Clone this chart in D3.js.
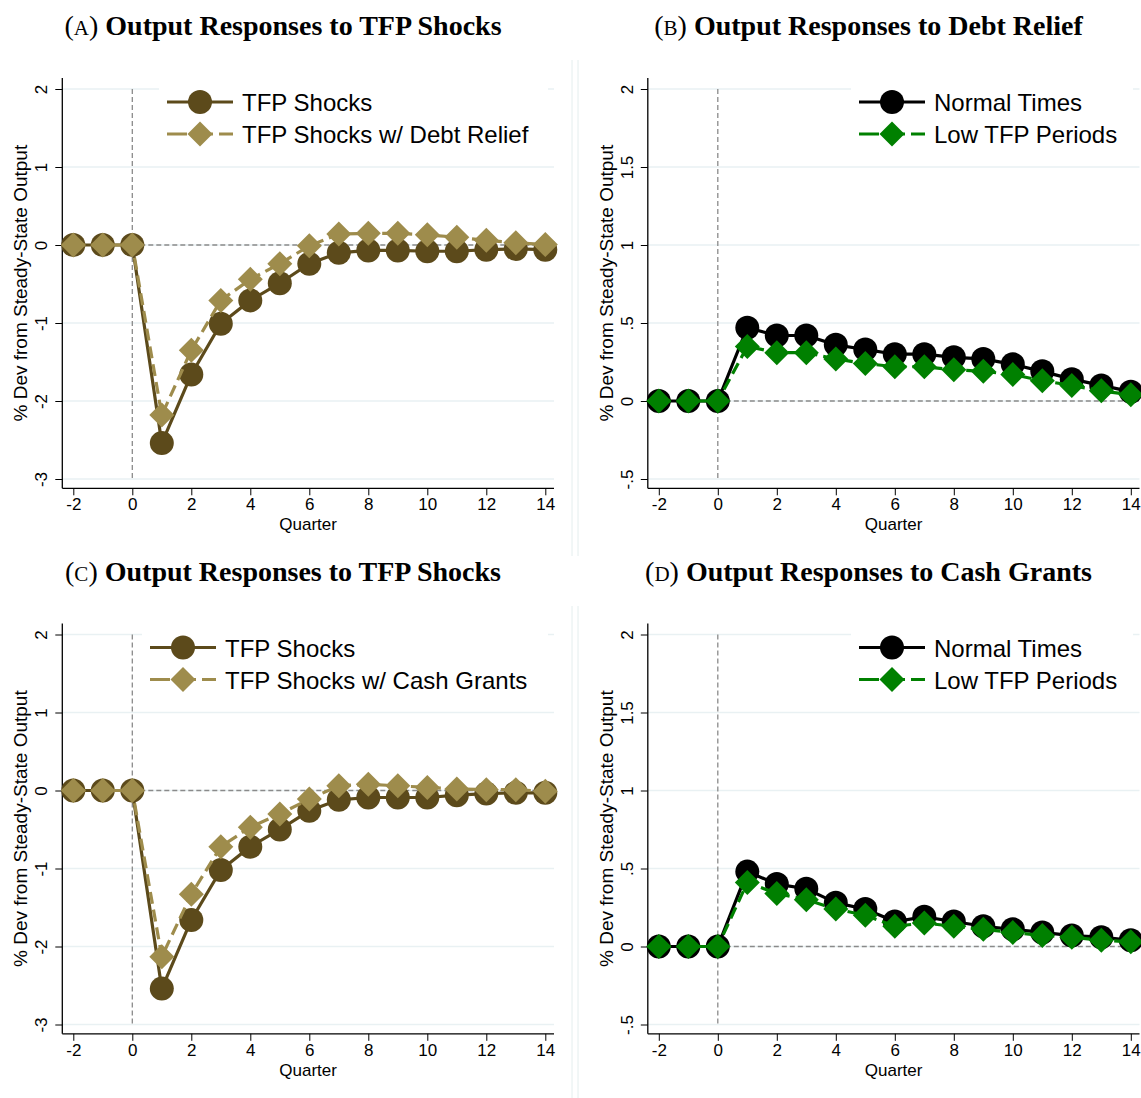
<!DOCTYPE html>
<html>
<head>
<meta charset="utf-8">
<script src="https://cdnjs.cloudflare.com/ajax/libs/d3/7.8.5/d3.min.js"></script>
<style>
  body { margin: 0; background: #fff; }
  svg { display: block; }
</style>
</head>
<body>
<script>
// quarters after the shock
const quarters = [-2, -1, 0, 1, 2, 3, 4, 5, 6, 7, 8, 9, 10, 11, 12, 13, 14]

// panel A
const tfpShocksA = [0, 0, 0, -2.54, -1.66, -1.01, -0.71, -0.49, -0.24, -0.10, -0.07, -0.07, -0.08, -0.08, -0.06, -0.05, -0.06]
const tfpDebtReliefA = [0, 0, 0, -2.18, -1.35, -0.71, -0.44, -0.24, -0.01, 0.14, 0.15, 0.15, 0.13, 0.10, 0.06, 0.03, 0.005]
// panel B
const normalTimesB = [0, 0, 0, 0.47, 0.42, 0.42, 0.36, 0.33, 0.30, 0.30, 0.28, 0.27, 0.235, 0.19, 0.14, 0.10, 0.06]
const lowTfpB = [0, 0, 0, 0.35, 0.31, 0.31, 0.27, 0.24, 0.22, 0.22, 0.20, 0.19, 0.17, 0.13, 0.10, 0.065, 0.04]
// panel C
const tfpShocksC = [0, 0, 0, -2.54, -1.66, -1.02, -0.72, -0.50, -0.26, -0.12, -0.09, -0.09, -0.09, -0.06, -0.04, -0.03, -0.03]
const tfpCashGrantsC = [0, 0, 0, -2.13, -1.33, -0.72, -0.47, -0.30, -0.11, 0.06, 0.08, 0.06, 0.04, 0.02, 0.01, 0.01, -0.01]
// panel D
const normalTimesD = [0, 0, 0, 0.48, 0.40, 0.37, 0.28, 0.24, 0.16, 0.19, 0.16, 0.13, 0.11, 0.09, 0.07, 0.06, 0.04]
const lowTfpD = [0, 0, 0, 0.41, 0.34, 0.30, 0.24, 0.20, 0.13, 0.15, 0.13, 0.11, 0.09, 0.07, 0.06, 0.04, 0.03]

// tick labels
const xTicks = [-2, 0, 2, 4, 6, 8, 10, 12, 14]
const yTicksShock = [2, 1, 0, -1, -2, -3]
const yTickLabelsShock = ['2', '1', '0', '-1', '-2', '-3']
const yTicksPolicy = [2, 1.5, 1, 0.5, 0, -0.5]
const yTickLabelsPolicy = ['2', '1.5', '1', '.5', '0', '-.5']

const config = {
  width: 1141,
  height: 1098,
  dark: '#5c4a1b',
  khaki: '#9e8c4c',
  black: '#000000',
  green: '#008000',
  grid: '#e9f1f3',
  sans: '"Liberation Sans", Arial, sans-serif',
  serif: '"Liberation Serif", "Times New Roman", serif'
}

const panels = [
  { letter: 'A', title: 'Output Responses to TFP Shocks', dx: 0, dy: 0,
    yDomain: [2, -3], yTicks: yTicksShock, yLabels: yTickLabelsShock, legendX: 159,
    series: [
      { name: 'TFP Shocks', values: tfpShocksA, color: config.dark, marker: 'circle', dashed: false },
      { name: 'TFP Shocks w/ Debt Relief', values: tfpDebtReliefA, color: config.khaki, marker: 'diamond', dashed: true }
    ] },
  { letter: 'B', title: 'Output Responses to Debt Relief', dx: 585.5, dy: 0,
    yDomain: [2, -0.5], yTicks: yTicksPolicy, yLabels: yTickLabelsPolicy, legendX: 851,
    series: [
      { name: 'Normal Times', values: normalTimesB, color: config.black, marker: 'circle', dashed: false },
      { name: 'Low TFP Periods', values: lowTfpB, color: config.green, marker: 'diamond', dashed: true }
    ] },
  { letter: 'C', title: 'Output Responses to TFP Shocks', dx: 0, dy: 545.5,
    yDomain: [2, -3], yTicks: yTicksShock, yLabels: yTickLabelsShock, legendX: 142,
    series: [
      { name: 'TFP Shocks', values: tfpShocksC, color: config.dark, marker: 'circle', dashed: false },
      { name: 'TFP Shocks w/ Cash Grants', values: tfpCashGrantsC, color: config.khaki, marker: 'diamond', dashed: true }
    ] },
  { letter: 'D', title: 'Output Responses to Cash Grants', dx: 585.5, dy: 545.5,
    yDomain: [2, -0.5], yTicks: yTicksPolicy, yLabels: yTickLabelsPolicy, legendX: 851,
    series: [
      { name: 'Normal Times', values: normalTimesD, color: config.black, marker: 'circle', dashed: false },
      { name: 'Low TFP Periods', values: lowTfpD, color: config.green, marker: 'diamond', dashed: true }
    ] }
]

const svg = d3.select('body').append('svg')
  .attr('width', config.width)
  .attr('height', config.height)

// faint borders between the left and right graphs
;[[60, 556], [606, 1098]].forEach(([y1, y2]) => {
  ;[572, 578].forEach(x => {
    svg.append('line')
      .attr('x1', x).attr('x2', x).attr('y1', y1).attr('y2', y2)
      .attr('stroke', '#e4eeee').attr('stroke-width', 1)
  })
})

const diamond = (cx, cy, r) => `M${cx},${cy - r}L${cx + r},${cy}L${cx},${cy + r}L${cx - r},${cy}Z`

const drawMarker = (g, s, cx, cy) => {
  if (s.marker === 'circle') {
    g.append('circle').attr('cx', cx).attr('cy', cy).attr('r', 12).attr('fill', s.color)
  } else {
    g.append('path').attr('d', diamond(cx, cy, 12.5)).attr('fill', s.color)
  }
}

function drawPanel(p) {
  const g = svg.append('g').attr('transform', `translate(${p.dx},${p.dy})`)
  const left = 62.3, right = 554, top = 78, bottom = 488.3

  const x = d3.scaleLinear().domain([-2, 14]).range([73.3, 545.3])
  const y = d3.scaleLinear().domain(p.yDomain).range([89, 479])

  // title
  const t = g.append('text')
    .attr('x', 283).attr('y', 35)
    .attr('text-anchor', 'middle')
    .style('font-family', config.serif)
    .style('font-size', '28px')
  t.append('tspan').text('(')
  t.append('tspan').style('font-size', '21px').text(p.letter)
  t.append('tspan').text(') ')
  t.append('tspan').style('font-weight', 'bold').text(p.title)

  // gridlines
  g.selectAll('.grid')
    .data(p.yTicks).enter().append('line')
    .attr('x1', left).attr('x2', right)
    .attr('y1', d => y(d)).attr('y2', d => y(d))
    .attr('stroke', config.grid).attr('stroke-width', 1.5)

  // reference lines
  g.append('line')
    .attr('x1', x(0)).attr('x2', x(0))
    .attr('y1', y(p.yDomain[0])).attr('y2', y(p.yDomain[1]))
    .attr('stroke', '#8a8a8a').attr('stroke-width', 1.3).attr('stroke-dasharray', '5,3')
  g.append('line')
    .attr('x1', x(0)).attr('x2', right)
    .attr('y1', y(0)).attr('y2', y(0))
    .attr('stroke', '#8a8a8a').attr('stroke-width', 1.3).attr('stroke-dasharray', '5,3')

  // axes
  const xAxis = d3.axisBottom(x).tickValues(xTicks).tickSize(7).tickPadding(3)
    .tickFormat(d => String(d))
  g.append('g').attr('transform', `translate(0,${bottom})`).call(xAxis)
    .call(a => a.select('.domain').remove())
    .call(a => a.selectAll('line').attr('stroke', '#000'))
    .call(a => a.selectAll('text').style('font-family', config.sans).style('font-size', '17px').attr('fill', '#000'))

  const yAxis = d3.axisLeft(y).tickValues(p.yTicks).tickSize(7)
    .tickFormat((d, i) => p.yLabels[i])
  g.append('g').attr('transform', `translate(${left},0)`).call(yAxis)
    .call(a => a.select('.domain').remove())
    .call(a => a.selectAll('line').attr('stroke', '#000'))
    .call(a => a.selectAll('text')
      .attr('x', 0).attr('dy', '0.35em')
      .attr('text-anchor', 'middle')
      .attr('transform', 'translate(-21,0) rotate(-90)')
      .style('font-family', config.sans).style('font-size', '17px').attr('fill', '#000'))

  g.append('line').attr('x1', left).attr('x2', left).attr('y1', top).attr('y2', bottom)
    .attr('stroke', '#000').attr('stroke-width', 1.3)
  g.append('line').attr('x1', left).attr('x2', right).attr('y1', bottom).attr('y2', bottom)
    .attr('stroke', '#000').attr('stroke-width', 1.3)

  g.append('text')
    .attr('x', (left + right) / 2).attr('y', 530)
    .attr('text-anchor', 'middle')
    .style('font-family', config.sans).style('font-size', '17px')
    .text('Quarter')
  g.append('text')
    .attr('transform', `translate(27,${(top + bottom) / 2}) rotate(-90)`)
    .attr('text-anchor', 'middle')
    .style('font-family', config.sans).style('font-size', '19px')
    .text('% Dev from Steady-State Output')

  // series
  const line = d3.line().x((d, i) => x(quarters[i])).y(d => y(d))
  p.series.forEach(s => {
    g.append('path')
      .attr('d', line(s.values))
      .attr('fill', 'none')
      .attr('stroke', s.color)
      .attr('stroke-width', 3.2)
      .attr('stroke-dasharray', s.dashed ? '12,6' : null)
    s.values.forEach((v, i) => drawMarker(g, s, x(quarters[i]), y(v)))
  })

  // legend
  const lg = g.append('g')
  lg.append('rect')
    .attr('x', p.legendX - p.dx).attr('y', 82)
    .attr('width', (p.dx ? 1133 : 548) - p.legendX).attr('height', 68)
    .attr('fill', '#fff')
  const lx = p.legendX - p.dx + 8
  p.series.forEach((s, i) => {
    const ly = 102 + i * 32
    lg.append('line')
      .attr('x1', lx).attr('x2', lx + 66).attr('y1', ly).attr('y2', ly)
      .attr('stroke', s.color).attr('stroke-width', 3.2)
      .attr('stroke-dasharray', s.dashed ? '20,6' : null)
    drawMarker(lg, s, lx + 33, ly)
    lg.append('text')
      .attr('x', lx + 75).attr('y', ly + 9)
      .style('font-family', config.sans).style('font-size', '24px')
      .text(s.name)
  })
}

panels.forEach(drawPanel)
</script>
</body>
</html>
